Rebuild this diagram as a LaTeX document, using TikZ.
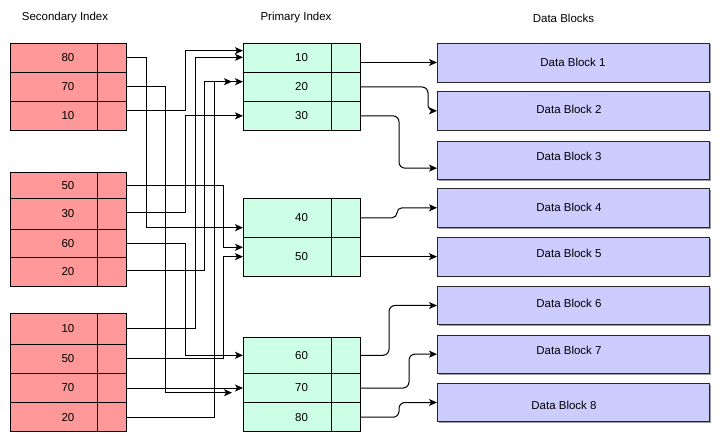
\documentclass[tikz,border=0pt]{standalone}
\usepackage{fontspec}
\setmainfont{Liberation Sans}
\usetikzlibrary{arrows.meta,shadows}
\definecolor{sred}{HTML}{FF9999}
\definecolor{pgreen}{HTML}{CCFFE6}
\definecolor{dblue}{HTML}{CCCCFF}
\begin{document}
\begin{tikzpicture}[x=1pt,y=-1pt,
  txt/.style={font=\fontsize{11.5}{13}\selectfont},
  cell/.style={txt, draw=black, line width=0.8pt, anchor=north west, inner sep=0pt, outer sep=0pt,
    path picture={\draw[line width=0.8pt] ([xshift=-29pt]path picture bounding box.north east) -- ([xshift=-29pt]path picture bounding box.south east);}},
  srow/.style={cell, fill=sred, minimum width=116pt},
  prow/.style={cell, fill=pgreen, minimum width=117pt},
  dblock/.style={txt, draw=black!85, line width=0.8pt, fill=dblue, anchor=north west, inner sep=0pt, outer sep=0pt,
    minimum width=272pt, drop shadow={shadow xshift=1.5pt, shadow yshift=-1.5pt, fill=black!55, opacity=0.7}},
  conn/.style={line width=1pt, -{Stealth[length=8pt,width=7pt,inset=2pt]}},
  curv/.style={conn, rounded corners=6pt},
  title/.style={txt}]
\useasboundingbox (0,0) rectangle (720,443);
\fill[white] (0,0) rectangle (720,443);

% titles
\node[title] (t1) at (65,18) {Secondary Index};
\node[title] (t2) at (296,18) {Primary Index};
\node[title] (t3) at (563.5,18) {Data Blocks};

% secondary index
\node[srow, minimum height=29.5pt] (s80)  at (10,43)    {80};
\node[srow, minimum height=29pt]   (s70a) at (10,72.5)  {70};
\node[srow, minimum height=28.5pt] (s10a) at (10,101.5) {10};

\node[srow, minimum height=26pt]   (s50a) at (10,172.7) {50};
\node[srow, minimum height=30.6pt] (s30a) at (10,198.7) {30};
\node[srow, minimum height=28pt]   (s60a) at (10,229.3) {60};
\node[srow, minimum height=29.4pt] (s20a) at (10,257.3) {20};

\node[srow, minimum height=31pt]   (s10b) at (10,313.3) {10};
\node[srow, minimum height=29pt]   (s50b) at (10,344.3) {50};
\node[srow, minimum height=29.4pt] (s70b) at (10,373.3) {70};
\node[srow, minimum height=29pt]   (s20b) at (10,402.7) {20};

% primary index
\node[prow, minimum height=29.3pt] (p10) at (243,43)    {10};
\node[prow, minimum height=29.4pt] (p20) at (243,72.3)  {20};
\node[prow, minimum height=28.3pt] (p30) at (243,101.7) {30};

\node[prow, minimum height=39pt]   (p40) at (243,198.3) {40};
\node[prow, minimum height=38.7pt] (p50) at (243,237.3) {50};

\node[prow, minimum height=36pt]   (p60) at (243,337.3) {60};
\node[prow, minimum height=29.4pt] (p70) at (243,373.3) {70};
\node[prow, minimum height=29pt]   (p80) at (243,402.7) {80};

% data blocks
\node[dblock, minimum height=39pt]   (d1) at (437,43)    {Data Block 1};
\node[dblock, minimum height=38.3pt] (d2) at (437,91.7)  {\hspace*{-8pt}\raisebox{3pt}{Data Block 2}};
\node[dblock, minimum height=38.3pt] (d3) at (437,141)   {\hspace*{-8pt}\raisebox{8pt}{Data Block 3}};
\node[dblock, minimum height=39pt]   (d4) at (437,188.3) {\hspace*{-8pt}Data Block 4};
\node[dblock, minimum height=38.7pt] (d5) at (437,237.3) {\hspace*{-8pt}\raisebox{6pt}{Data Block 5}};
\node[dblock, minimum height=37.6pt] (d6) at (437,286.7) {\hspace*{-8pt}\raisebox{5pt}{Data Block 6}};
\node[dblock, minimum height=38.3pt] (d7) at (437,335)   {\hspace*{-8pt}\raisebox{7pt}{Data Block 7}};
\node[dblock, minimum height=38.4pt] (d8) at (437,383.3) {\hspace*{-18pt}\raisebox{-3.5pt}[8.5pt][2.5pt]{Data Block 8}};

% secondary -> primary
\draw[conn] (s80.east) -- ++(20,0) |- ([yshift=-9.9pt]p40.west);
\draw[conn, shorten >=11pt] (s70a.east) -- ++(39.7,0) |- ([yshift=-4.7pt]p70.west);
\draw[conn] ([yshift=4.75pt]s10a.east) -- ++(59,0) |- ([yshift=7pt]p10.west);
\draw[conn] (s50a.east) -- ++(97.7,0) |- ([yshift=9.35pt]p50.west);
\draw[conn] ([yshift=1pt]s30a.east) -- ++(59,0) |- (p30.west);
\draw[conn] (s60a.east) -- ++(59,0) |- (p60.west);
\draw[conn, shorten >=11pt] ([yshift=1pt]s20a.east) -- ++(78.3,0) |- ([yshift=5.3pt]p20.west);
\draw[conn] ([yshift=0.5pt]s10b.east) -- ++(69,0) |- ([yshift=0.35pt]p10.west);
\draw[conn] (s50b.east) -- ++(97.7,0) |- (p50.west);
\draw[conn] (s70b.east) -- (p70.west);
\draw[conn] (s20b.east) -- ++(88.3,0) |- ([yshift=5.3pt]p20.west);

% primary -> data
\draw[conn] (p10.east |- d1.west) -- (d1.west);
\draw[curv] (p20.east) -- ++(68,0) |- (d2.west);
\draw[curv] (p30.east) -- ++(39,0) |- ([yshift=-8pt]d3.west);
\draw[curv, rounded corners=5pt] (p40.east) -- ++(37,0) |- (d4.west);
\draw[conn] (p50.east) -- (d5.west);
\draw[curv] (p60.east) -- ++(29,0) |- (d6.west);
\draw[curv] (p70.east) -- ++(49,0) |- (d7.west);
\draw[curv] (p80.east) -- ++(39,0) |- (d8.west);
\end{tikzpicture}
\end{document}
